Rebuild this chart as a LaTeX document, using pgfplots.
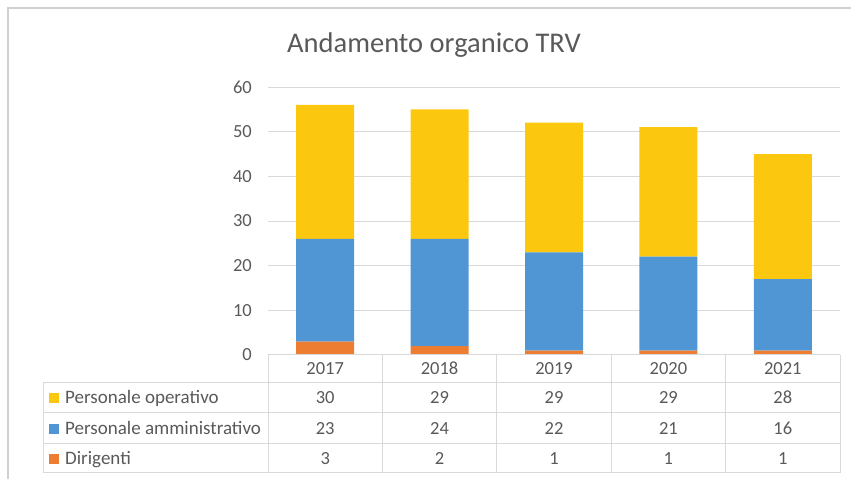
\documentclass[border=0pt]{standalone}
\usepackage{fontspec}
\setmainfont{Carlito}
\usepackage{pgfplots}
\pgfplotsset{compat=1.18}
\definecolor{cY}{HTML}{FBC80F}
\definecolor{cB}{HTML}{5096D4}
\definecolor{cO}{HTML}{ED7D31}
\definecolor{cG}{HTML}{D9D9D9}
\definecolor{cF}{HTML}{D0D0D0}
\definecolor{cT}{HTML}{595959}
\newcommand{\fs}{\fontsize{18.5}{22}\selectfont}
\newcommand{\fl}{\fontsize{19}{22}\selectfont}
\begin{document}
\begin{tikzpicture}
\useasboundingbox (0,0) rectangle (851pt,479pt);
% outer frame
\draw[cF, line width=2pt] (8pt,0pt) -- (8pt,471pt) -- (851pt,471pt);
\begin{axis}[
  at={(268pt,124pt)}, anchor=south west,
  scale only axis, width=572pt, height=268pt,
  xmin=-0.5, xmax=4.5, ymin=0, ymax=60,
  ybar stacked, bar width=58pt,
  axis line style={draw=none},
  xtick=\empty,
  ytick={0,10,...,60},
  ymajorgrids, grid style={cG, line width=1pt},
  major tick length=0pt,
  /pgf/number format/assume math mode=true,
  yticklabel style={font=\fs, text=cT, inner sep=0pt, xshift=-16pt},
  clip=false,
]
\addplot[fill=cO, draw=none] coordinates {(0,3) (1,2) (2,1) (3,1) (4,1)};
\addplot[fill=cB, draw=none] coordinates {(0,23) (1,24) (2,22) (3,21) (4,16)};
\addplot[fill=cY, draw=none] coordinates {(0,30) (1,29) (2,29) (3,29) (4,28)};
\end{axis}
% data table
\begin{scope}[cG, line width=1pt]
\draw (268pt,{(479-355)*1pt}) -- (840pt,{(479-355)*1pt});
\foreach \yy in {383,413,444,473} \draw (43pt,{(479-\yy)*1pt}) -- (840pt,{(479-\yy)*1pt});
\draw (43pt,{(479-383)*1pt}) -- (43pt,{(479-473)*1pt});
\foreach \xx in {268,382.4,496.8,611.2,725.6,840} \draw (\xx pt,{(479-355)*1pt}) -- (\xx pt,{(479-473)*1pt});
\end{scope}
\foreach \i/\yr/\a/\b/\c in {0/2017/30/23/3, 1/2018/29/24/2, 2/2019/29/22/1, 3/2020/29/21/1, 4/2021/28/16/1} {
  \pgfmathsetmacro{\cx}{325.2+114.4*\i}
  \node[font=\fs, text=cT, inner sep=0pt, anchor=base] at (\cx pt,{(479-375)*1pt}) {\yr};
  \node[font=\fs, text=cT, inner sep=0pt, anchor=base] at (\cx pt,{(479-404)*1pt}) {\a};
  \node[font=\fs, text=cT, inner sep=0pt, anchor=base] at (\cx pt,{(479-435)*1pt}) {\b};
  \node[font=\fs, text=cT, inner sep=0pt, anchor=base] at (\cx pt,{(479-465)*1pt}) {\c};
}
\fill[cY] (49pt,{(479-393)*1pt}) rectangle (59pt,{(479-403)*1pt});
\fill[cB] (49pt,{(479-424)*1pt}) rectangle (59pt,{(479-434)*1pt});
\fill[cO] (49pt,{(479-454)*1pt}) rectangle (59pt,{(479-464)*1pt});
\node[font=\fl, text=cT, anchor=base west, inner sep=0pt] at (65pt,{(479-404)*1pt}) {Personale operativo};
\node[font=\fl, text=cT, anchor=base west, inner sep=0pt] at (65pt,{(479-435)*1pt}) {Personale amministrativo};
\node[font=\fl, text=cT, anchor=base west, inner sep=0pt] at (65pt,{(479-465)*1pt}) {Dirigenti};
% title
\node[font=\fontsize{28.5}{32}\selectfont, text=cT, anchor=base, inner sep=0pt] at (434pt,{(479-53)*1pt}) {Andamento organico TRV};
\end{tikzpicture}
\end{document}
